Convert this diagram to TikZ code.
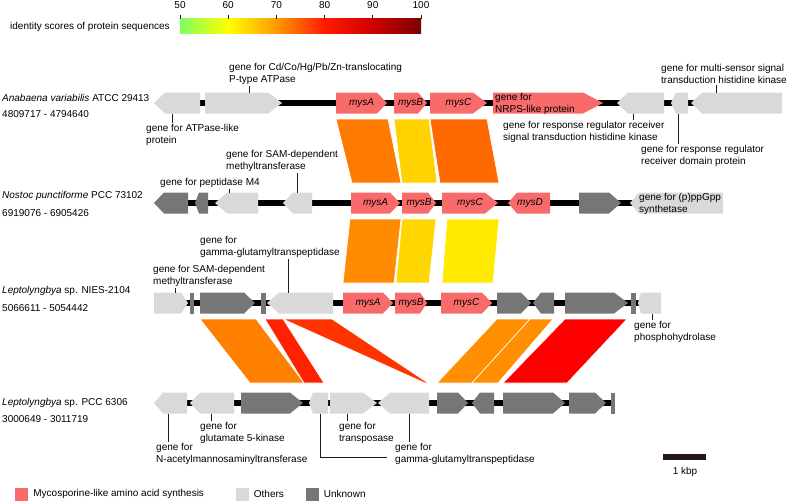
\documentclass[tikz,border=0pt]{standalone}
\usepackage{fontspec}
\setmainfont{Liberation Sans}
\usetikzlibrary{positioning}
\definecolor{cmys}{HTML}{F96B6B}
\definecolor{cother}{HTML}{D9D9D9}
\definecolor{cunk}{HTML}{767676}
\definecolor{cink}{HTML}{231815}
\definecolor{cbgreen}{HTML}{80FF5F}
\definecolor{cborange}{HTML}{FF9A00}
\definecolor{cbred}{HTML}{FF1A00}
\definecolor{cbdeep}{HTML}{D00000}
\definecolor{cbdark}{HTML}{7A0000}
% ribbon colours
\definecolor{hA}{HTML}{FF7B00}
\definecolor{hB}{HTML}{FFD200}
\definecolor{hC}{HTML}{FF6A00}
\definecolor{hD}{HTML}{FF8C00}
\definecolor{hE}{HTML}{FFD700}
\definecolor{hF}{HTML}{FFEA00}
\definecolor{hG}{HTML}{FF7F00}
\definecolor{hH}{HTML}{FF3300}
\definecolor{hI}{HTML}{FF2200}
\definecolor{hJ}{HTML}{FF8F00}
\definecolor{hK}{HTML}{FF0000}
\pgfdeclarehorizontalshading{identity}{100bp}{color(0bp)=(cbgreen); color(25bp)=(cbgreen); color(35bp)=(yellow); color(45bp)=(cborange); color(55bp)=(cbred); color(65bp)=(cbdeep); color(75bp)=(cbdark); color(100bp)=(cbdark)}
\tikzset{
  lbl/.style={font=\fontsize{10pt}{12pt}\selectfont, align=left, anchor=west, inner sep=1pt},
  gname/.style={font=\fontsize{10pt}{12pt}\selectfont\itshape, inner sep=0pt},
  lead/.style={draw=cink, line width=1pt},
  backbone/.style={draw=black, line width=5.5pt},
  mys/.style={fill=cmys},
  others/.style={fill=cother},
  unk/.style={fill=cunk},
  ribbon/.style={fill=#1, draw=white, line width=0.6pt},
  legbox/.style={minimum size=13pt, inner sep=0pt},
}
% genes: style, y, x from, x to, tip length
\newcommand{\genefwd}[5]{\fill[#1] (#3,#2-10.5) -- (#4-#5,#2-10.5) -- (#4,#2) -- (#4-#5,#2+10.5) -- (#3,#2+10.5) -- cycle;}
\newcommand{\generev}[5]{\fill[#1] (#3,#2) -- (#3+#5,#2-10.5) -- (#4,#2-10.5) -- (#4,#2+10.5) -- (#3+#5,#2+10.5) -- cycle;}
\newcommand{\genebox}[4]{\fill[#1] (#3,#2-10.5) rectangle (#4,#2+10.5);}
% ribbons: colour, y top, y bottom, top from, top to, bottom from, bottom to
\newcommand{\homol}[7]{\filldraw[ribbon=#1] (#4,#2) -- (#5,#2) -- (#7,#3) -- (#6,#3) -- cycle;}

\begin{document}
\begin{tikzpicture}[x=1pt, y=-1pt]
  \useasboundingbox (0,0) rectangle (787,503);
  % identity colour bar
  \node[lbl] (cbLab) at (9,27) {identity scores of protein sequences};
  \shade[shading=identity] (180,19) rectangle (421,34);
  \foreach \v in {50,60,...,100} {
    \coordinate (cb\v) at ({180+(\v-50)*4.82},19);
    \draw[lead] (cb\v) -- ++(0,-4);
    \node[lbl, anchor=base] (cbl\v) at ({180+(\v-50)*4.82},9) {\v};
  }

  % homology ribbons
  \homol{hA}{119}{183}{336}{388}{352}{401}
  \homol{hB}{119}{183}{394}{429}{402}{437}
  \homol{hC}{119}{183}{430}{487}{440}{499}
  \homol{hD}{219}{283}{350}{401}{343}{394}
  \homol{hE}{219}{283}{402}{436}{396}{429}
  \homol{hF}{219}{283}{447}{499}{442}{493}
  \homol{hG}{319}{383}{200}{256}{250}{304}
  \homol{hH}{319}{383}{283}{332}{425}{428}
  \homol{hI}{319}{383}{265}{283}{304}{324}
  \homol{hJ}{319}{383}{497}{530}{437}{472}
  \homol{hJ}{319}{383}{530}{553}{472}{498}
  \homol{hK}{319}{383}{565}{627}{503}{567}

  % Anabaena variabilis
  \node[lbl] (sp1) at (1,98) {\textit{Anabaena variabilis} ATCC 29413};
  \node[lbl] (sp1pos) at (1,114) {4809717 - 4794640};
  \draw[backbone] (160,103) -- (776,103);
  \generev{others}{103}{154}{200}{11}
  \genefwd{others}{103}{205}{282}{14}
  \genefwd{mys}{103}{336}{387}{10}
  \genefwd{mys}{103}{394}{427}{9}
  \genefwd{mys}{103}{430}{487}{14}
  \genefwd{mys}{103}{493}{603}{20}
  \generev{others}{103}{617}{664}{11}
  \generev{others}{103}{671}{688}{5}
  \generev{others}{103}{691}{782}{11}
  \node[gname] (a1) at (361.5,103) {mysA};
  \node[gname] (b1) at (410.5,103) {mysB};
  \node[gname] (c1) at (458.5,103) {mysC};
  \node[lbl] (nrpsLab) at (494,104) {gene for\\NRPS-like protein};
  \node[lbl] (cdLab) at (228,74) {gene for Cd/Co/Hg/Pb/Zn-translocating\\P-type ATPase};
  \node[lbl] (atpLab) at (145,135) {gene for ATPase-like\\protein};
  \node[lbl] (rrkLab) at (502,132) {gene for response regulator receiver\\signal transduction histidine kinase};
  \node[lbl] (rrdLab) at (640,156) {gene for response regulator\\receiver domain protein};
  \node[lbl] (msLab) at (660,74) {gene for multi-sensor signal\\transduction histidine kinase};
  \coordinate (cdT) at (249,92.5);
  \coordinate (atpT) at (172,113.5);
  \coordinate (rrkT) at (633,113.5);
  \coordinate (rrdT) at (678,113.5);
  \coordinate (msT) at (716,92.5);
  \draw[lead] (cdT) -- (cdT |- cdLab.south);
  \draw[lead] (atpT) -- (atpT |- atpLab.north);
  \draw[lead] (rrkT) -- (rrkT |- rrkLab.north);
  \draw[lead] (rrdT) -- (rrdT |- rrdLab.north);
  \draw[lead] (msT) -- (msT |- msLab.south);

  % Nostoc punctiforme
  \node[lbl] (sp2) at (1,196) {\textit{Nostoc punctiforme} PCC 73102};
  \node[lbl] (sp2pos) at (1,213) {6919076 - 6905426};
  \draw[backbone] (160,203) -- (717,203);
  \generev{unk}{203}{154}{188}{10}
  \generev{unk}{203}{195}{208}{4}
  \generev{others}{203}{215}{258}{12}
  \generev{others}{203}{283}{312}{10}
  \genefwd{mys}{203}{351}{400}{10}
  \genefwd{mys}{203}{402}{436}{8}
  \genefwd{mys}{203}{442}{498}{13}
  \generev{mys}{203}{508}{550}{9}
  \genefwd{unk}{203}{579}{621}{12}
  \generev{others}{203}{630}{723}{9}
  \node[gname] (a2) at (375.5,203) {mysA};
  \node[gname] (b2) at (419,203) {mysB};
  \node[gname] (c2) at (470,203) {mysC};
  \node[gname] (d2) at (530,203) {mysD};
  \node[lbl] (ppLab) at (638,204) {gene for (p)ppGpp\\synthetase};
  \node[lbl] (samLab2) at (225,161) {gene for SAM-dependent\\methyltransferase};
  \node[lbl] (pepLab) at (159,183) {gene for peptidase M4};
  \coordinate (samT2) at (297,192.5);
  \coordinate (pepT) at (229,192.5);
  \draw[lead] (samT2) -- (samT2 |- samLab2.south);
  \draw[lead] (pepT) -- (pepT |- pepLab.south);

  % Leptolyngbya NIES-2104
  \node[lbl] (sp3) at (1,291) {\textit{Leptolyngbya} sp. NIES-2104};
  \node[lbl] (sp3pos) at (1,308) {5066611 - 5054442};
  \draw[backbone] (158,303) -- (658,303);
  \genefwd{others}{303}{154}{188}{7}
  \genebox{unk}{303}{190}{194}
  \genefwd{unk}{303}{200}{255}{11}
  \genebox{unk}{303}{261}{266}
  \generev{others}{303}{267}{333}{12}
  \genefwd{mys}{303}{343}{393}{10}
  \genefwd{mys}{303}{395}{427}{7}
  \genefwd{mys}{303}{441}{492}{10}
  \genefwd{unk}{303}{497}{531}{10}
  \generev{unk}{303}{533}{554}{8}
  \genefwd{unk}{303}{565}{628}{14}
  \genebox{unk}{303}{631}{636}
  \generev{others}{303}{638}{661}{3}
  \node[gname] (a3) at (368,303) {mysA};
  \node[gname] (b3) at (411,303) {mysB};
  \node[gname] (c3) at (466.5,303) {mysC};
  \node[lbl] (ggtLab3) at (199,247) {gene for\\gamma-glutamyltranspeptidase};
  \node[lbl] (samLab3) at (152,276) {gene for SAM-dependent\\methyltransferase};
  \node[lbl] (phLab) at (633,332) {gene for\\phosphohydrolase};
  \coordinate (ggtT3) at (288,292.5);
  \coordinate (samT3) at (175,292.5);
  \coordinate (phT) at (652,313.5);
  \draw[lead] (ggtT3) -- (ggtT3 |- ggtLab3.south);
  \draw[lead] (samT3) -- (samT3 |- samLab3.south);
  \draw[lead] (phT) -- (phT |- phLab.north);

  % Leptolyngbya PCC 6306
  \node[lbl] (sp4) at (1,403) {\textit{Leptolyngbya} sp. PCC 6306};
  \node[lbl] (sp4pos) at (1,419) {3000649 - 3011719};
  \draw[backbone] (160,403) -- (613,403);
  \generev{others}{403}{154}{187}{9}
  \generev{others}{403}{190}{234}{10}
  \genefwd{unk}{403}{241}{303}{13}
  \generev{others}{403}{309}{328}{4}
  \genefwd{others}{403}{330}{377}{14}
  \generev{others}{403}{378}{429}{12}
  \genefwd{unk}{403}{437}{468}{10}
  \generev{unk}{403}{472}{494}{8}
  \genefwd{unk}{403}{503}{565}{12}
  \genefwd{unk}{403}{569}{606}{11}
  \genebox{unk}{403}{611}{615}
  \node[lbl] (gkLab) at (199,433) {gene for\\glutamate 5-kinase};
  \node[lbl] (nacLab) at (155,454) {gene for\\N-acetylmannosaminyltransferase};
  \node[lbl] (tpLab) at (338,433) {gene for\\transposase};
  \node[lbl] (ggtLab4) at (394,454) {gene for\\gamma-glutamyltranspeptidase};
  \coordinate (gkT) at (211,413.5);
  \coordinate (nacT) at (168,413.5);
  \coordinate (tpT) at (347,413.5);
  \coordinate (ggtT4) at (409,413.5);
  \coordinate (ggtS) at (320,413.5);
  \coordinate (ggtEnd) at (387,457);
  \draw[lead] (gkT) -- (gkT |- gkLab.north);
  \draw[lead] (nacT) -- (nacT |- nacLab.north);
  \draw[lead] (tpT) -- (tpT |- tpLab.north);
  \draw[lead] (ggtT4) -- (ggtT4 |- ggtLab4.north);
  \draw[lead] (ggtS) |- (ggtEnd);

  % scale bar
  \fill[cink] (663,454) rectangle (706,460);
  \node[lbl, anchor=center] (kbp) at (685,472) {1 kbp};

  % legend
  \node[legbox, fill=cmys] (legMys) at (21.5,494) {};
  \node[lbl, right=4pt of legMys] (legMysTxt) {Mycosporine-like amino acid synthesis};
  \node[legbox, fill=cother] (legOth) at (242,494) {};
  \node[lbl, right=4pt of legOth] (legOthTxt) {Others};
  \node[legbox, fill=cunk] (legUnk) at (312,494) {};
  \node[lbl, right=4pt of legUnk] (legUnkTxt) {Unknown};
\end{tikzpicture}
\end{document}
